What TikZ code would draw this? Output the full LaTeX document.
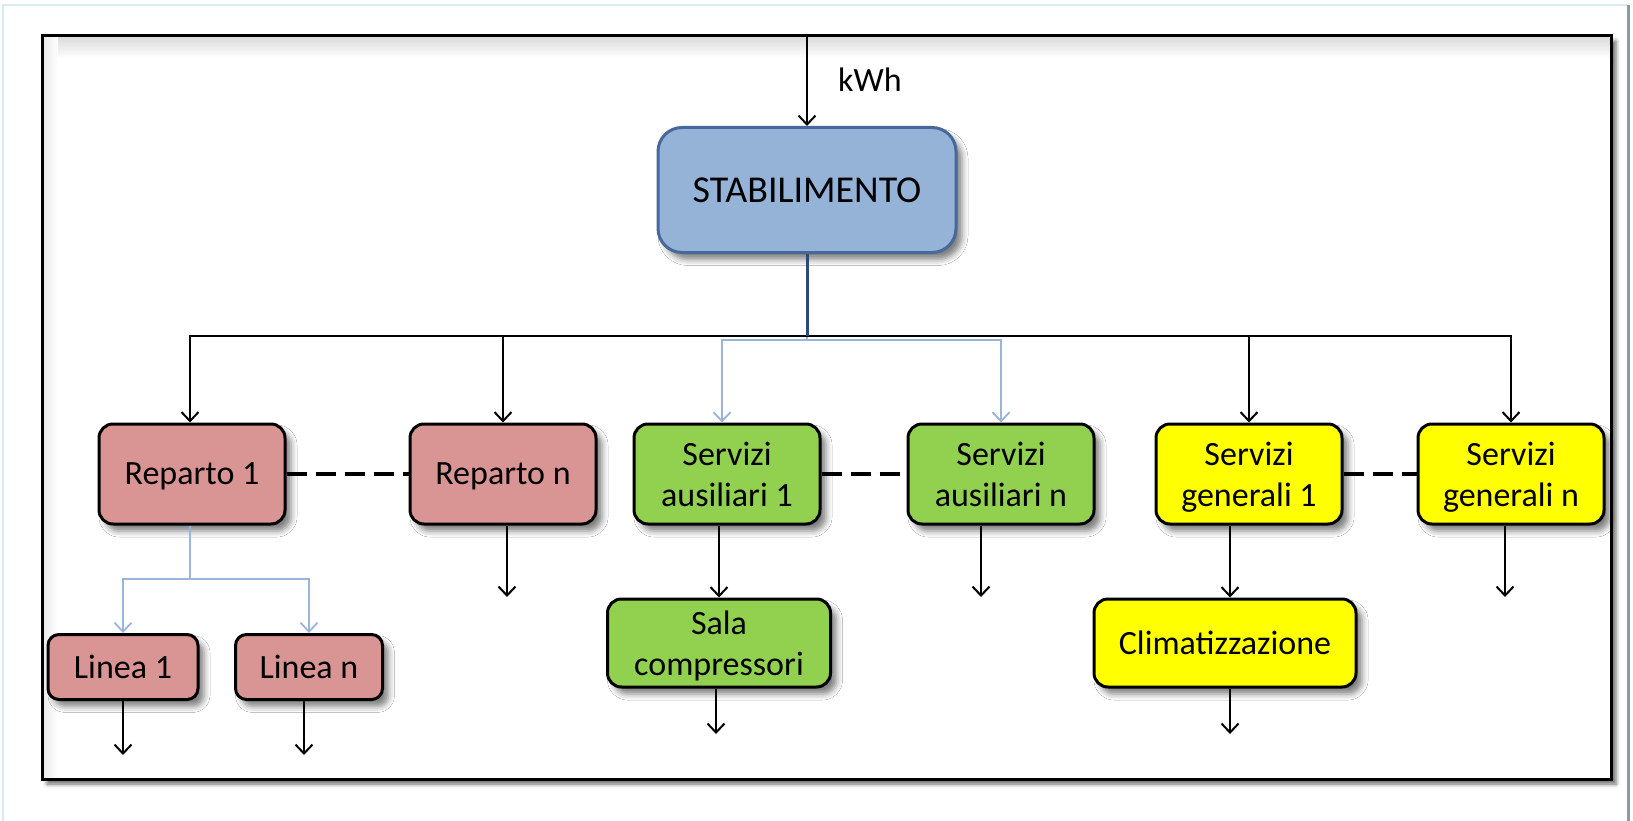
\documentclass[tikz,border=0pt]{standalone}
\usepackage{fontspec}
\setmainfont{Carlito}
\usetikzlibrary{arrows.meta,shadows.blur}

\definecolor{repfill}{HTML}{D99594}
\definecolor{ausfill}{HTML}{92D050}
\definecolor{genfill}{HTML}{FFFF00}
\definecolor{stabfill}{HTML}{95B3D7}
\definecolor{stabline}{HTML}{46699A}
\definecolor{linkblue}{HTML}{9AB5D6}
\definecolor{stubnavy}{HTML}{2B4A74}
\definecolor{outercyan}{HTML}{D7ECF1}
\definecolor{outergray}{HTML}{8A9BA3}

\tikzset{
  boxshadow/.style={blur shadow={shadow xshift=6pt, shadow yshift=-7pt,
      shadow blur radius=6pt, shadow opacity=50}},
  unitbox/.style={draw=black, line width=3pt, rounded corners=14pt,
      align=center, inner sep=0pt, text depth=0pt,
      font=\fontsize{34}{41}\selectfont,
      minimum width=186pt, minimum height=100pt, boxshadow},
  repbox/.style={unitbox, fill=repfill},
  ausbox/.style={unitbox, fill=ausfill},
  genbox/.style={unitbox, fill=genfill},
  stabbox/.style={draw=stabline, line width=3pt, fill=stabfill,
      rounded corners=24pt, inner sep=0pt, minimum width=298pt,
      minimum height=125pt, font=\fontsize{38}{46}\selectfont, boxshadow},
  conn/.style={draw=black, line width=2.4pt,
      -{Straight Barb[length=9pt,width=17pt,line width=2pt]}},
  bluelink/.style={draw=linkblue, line width=2pt,
      -{Straight Barb[length=9pt,width=17pt,line width=1.8pt]}},
  linkdash/.style={draw=black, line width=4.5pt, dash pattern=on 20pt off 9pt},
}

\begin{document}
\begin{tikzpicture}[x=1pt, y=-1pt]
\useasboundingbox (0,0) rectangle (1633,821);

% outer page frame
\draw[outercyan, line width=2.5pt] (3,821) -- (3,5) -- (1628,5);
\draw[outergray, line width=3pt] (1628,5) -- (1628,821);

% inner picture frame with its shadow and top inset shading
\fill[white, blur shadow={shadow xshift=5pt, shadow yshift=-5pt,
      shadow blur radius=4pt, shadow opacity=60}]
  (42,36) rectangle (1611,779);
\shade[top color=black!14, bottom color=white] (43.5,37.5) rectangle (1609.5,58);
\shade[left color=black!8, right color=white] (43.5,37.5) rectangle (58,777.5);
\draw[black, line width=3pt] (42,36) rectangle (1611,779);

% plant node
\node[stabbox] (stab) at (807,190) {STABILIMENTO};
\coordinate (feed) at (807,36);
\draw[conn] (feed) -- (stab.north);
\node[font=\fontsize{34}{41}\selectfont, anchor=center] (kwh) at (870,80) {kWh};

% departments and services
\node[repbox] (rep1) at (192,474) {Reparto 1};
\node[repbox] (repn) at (503,474) {Reparto n};
\node[ausbox] (aus1) at (727,474) {Servizi\\ausiliari 1};
\node[ausbox] (ausn) at (1001,474) {Servizi\\ausiliari n};
\node[genbox] (gen1) at (1249,474) {Servizi\\generali 1};
\node[genbox] (genn) at (1511,474) {Servizi\\generali n};

% lower level
\node[repbox, minimum width=150pt, minimum height=65pt, rounded corners=11pt] (lin1) at (123,667) {Linea 1};
\node[repbox, minimum width=147pt, minimum height=65pt, rounded corners=11pt] (linn) at (309,667) {Linea n};
\node[ausbox, minimum width=223pt, minimum height=88pt] (sala) at (719,643) {Sala\\compressori};
\node[genbox, minimum width=262pt, minimum height=88pt] (clim) at (1225,643) {Climatizzazione};

% distribution bus from the plant
\coordinate (busblue) at (807,340);
\coordinate (bus) at (807,336);
\draw[bluelink] (stab.south) -- (busblue) -| ([xshift=-5pt]aus1.north);
\draw[bluelink] (stab.south) -- (busblue) -| (ausn.north);
\draw[conn] (bus) -| ([xshift=-2pt]rep1.north);
\draw[conn] (bus) -| (repn.north);
\draw[conn] (bus) -| (gen1.north);
\draw[conn] (bus) -| (genn.north);
\draw[stubnavy, line width=3pt] (stab.south) -- (bus);

% dashed links between first and last unit of each group
\draw[linkdash] (rep1.east) -- (repn.west);
\draw[linkdash] (aus1.east) -- (ausn.west);
\draw[linkdash] (gen1.east) -- (genn.west);

% department 1 split into lines
\coordinate (split) at (190,579);
\draw[bluelink] ([xshift=-2pt]rep1.south) -- (split) -| (lin1.north);
\draw[bluelink] ([xshift=-2pt]rep1.south) -- (split) -| (linn.north);

% outgoing flows
\coordinate (outrepn) at (507,597);
\coordinate (outausn) at (981,597);
\coordinate (outgenn) at (1505,597);
\coordinate (outlin1) at (123,755);
\coordinate (outlinn) at (304,755);
\coordinate (outsala) at (716,734);
\coordinate (outclim) at (1230,734);
\draw[conn] (repn.south -| outrepn) -- (outrepn);
\draw[conn] (ausn.south -| outausn) -- (outausn);
\draw[conn] (genn.south -| outgenn) -- (outgenn);
\draw[conn] (aus1.south -| sala.north) -- (sala.north);
\draw[conn] (gen1.south -| outclim) -- (clim.north -| outclim);
\draw[conn] (lin1.south -| outlin1) -- (outlin1);
\draw[conn] (linn.south -| outlinn) -- (outlinn);
\draw[conn] (sala.south -| outsala) -- (outsala);
\draw[conn] (clim.south -| outclim) -- (outclim);
\end{tikzpicture}
\end{document}
